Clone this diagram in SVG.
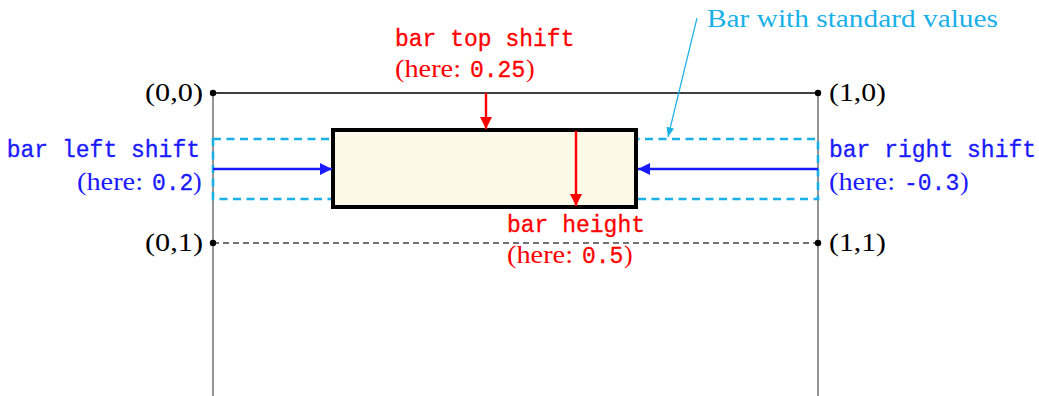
<svg xmlns="http://www.w3.org/2000/svg" width="1039" height="396" viewBox="0 0 1039 396">
<style>
.serif{font-family:"Liberation Serif","Times New Roman",serif;font-size:26px}
.mono{font-family:"Liberation Mono","Courier New",monospace;font-size:23px;stroke-width:0.3px}
.blue{fill:#1a1aff;stroke:#1a1aff}
.red{fill:#ff0000;stroke:#ff0000}
.cyan{fill:#19b0e8}
.blk{fill:#000}
.serif.blue,.serif.red{stroke:none}
</style>
<defs>
<marker id="ar" viewBox="0 0 10 10" refX="10" refY="5" markerWidth="5" markerHeight="5" orient="auto" markerUnits="strokeWidth"><path d="M0,0 L10,5 L0,10 z" fill="#ff0000"/></marker>
<marker id="ab" viewBox="0 0 10 10" refX="10" refY="5" markerWidth="5" markerHeight="5" orient="auto" markerUnits="strokeWidth"><path d="M0,0 L10,5 L0,10 z" fill="#1a1aff"/></marker>
<marker id="ac" viewBox="0 0 10 10" refX="10" refY="5" markerWidth="8" markerHeight="8" orient="auto" markerUnits="strokeWidth"><path d="M0,1 L10,5 L0,9 z" fill="#19b0e8"/></marker>
</defs>
<g id="frame">
<line x1="213" y1="93" x2="213" y2="396" stroke="#666" stroke-width="1.4"/>
<line x1="818" y1="93" x2="818" y2="396" stroke="#666" stroke-width="1.4"/>
<line x1="213" y1="93" x2="818" y2="93" stroke="#000" stroke-width="1.3"/>
<line x1="213" y1="243" x2="818" y2="243" stroke="#444" stroke-width="1.3" stroke-dasharray="6,4"/>
<circle cx="213" cy="93" r="3.2" fill="#000"/>
<circle cx="818" cy="93" r="3.2" fill="#000"/>
<circle cx="213" cy="243" r="3.2" fill="#000"/>
<circle cx="818" cy="243" r="3.2" fill="#000"/>
<text class="serif blk" x="145" y="101" textLength="58" lengthAdjust="spacingAndGlyphs">(0,0)</text>
<text class="serif blk" x="829" y="101" textLength="57" lengthAdjust="spacingAndGlyphs">(1,0)</text>
<text class="serif blk" x="145" y="251" textLength="58" lengthAdjust="spacingAndGlyphs">(0,1)</text>
<text class="serif blk" x="829" y="251" textLength="57" lengthAdjust="spacingAndGlyphs">(1,1)</text>
</g>
<g id="standard-bar">
<rect x="213" y="139" width="605" height="60" fill="none" stroke="#19b0e8" stroke-width="2.6" stroke-dasharray="8,5.5"/>
</g>
<g id="bar">
<rect x="333" y="130" width="303" height="77" fill="#fdf9e8" stroke="#000" stroke-width="4"/>
</g>
<g id="connectors">
<line x1="486" y1="93" x2="486" y2="129" stroke="#ff0000" stroke-width="2.4" marker-end="url(#ar)"/>
<line x1="576" y1="131" x2="576" y2="206" stroke="#ff0000" stroke-width="2.4" marker-end="url(#ar)"/>
<line x1="213" y1="169" x2="332" y2="169" stroke="#1a1aff" stroke-width="2.4" marker-end="url(#ab)"/>
<line x1="818" y1="169" x2="638" y2="169" stroke="#1a1aff" stroke-width="2.4" marker-end="url(#ab)"/>
<line x1="697" y1="18" x2="668" y2="137" stroke="#19b0e8" stroke-width="1.2" marker-end="url(#ac)"/>
</g>
<g id="label-top">
<text class="mono red" x="395" y="46">bar top shift</text>
<text class="serif red" x="395" y="77" textLength="66" lengthAdjust="spacingAndGlyphs">(here:</text>
<text class="mono red" x="470" y="77">0.25</text>
<text class="serif red" x="526" y="77">)</text>
</g>
<g id="label-height">
<text class="mono red" x="507" y="232">bar height</text>
<text class="serif red" x="507" y="263" textLength="66" lengthAdjust="spacingAndGlyphs">(here:</text>
<text class="mono red" x="582" y="263">0.5</text>
<text class="serif red" x="624" y="263">)</text>
</g>
<g id="label-left">
<text class="mono blue" x="200" y="157" text-anchor="end">bar left shift</text>
<text class="serif blue" x="77" y="190" textLength="66" lengthAdjust="spacingAndGlyphs">(here:</text>
<text class="mono blue" x="152" y="190">0.2</text>
<text class="serif blue" x="193" y="190">)</text>
</g>
<g id="label-right">
<text class="mono blue" x="829" y="157">bar right shift</text>
<text class="serif blue" x="829" y="190" textLength="66" lengthAdjust="spacingAndGlyphs">(here:</text>
<text class="mono blue" x="904" y="190">-0.3</text>
<text class="serif blue" x="960" y="190">)</text>
</g>
<g id="label-standard">
<text class="serif cyan" x="707" y="27" textLength="291" lengthAdjust="spacingAndGlyphs">Bar with standard values</text>
</g>
</svg>
